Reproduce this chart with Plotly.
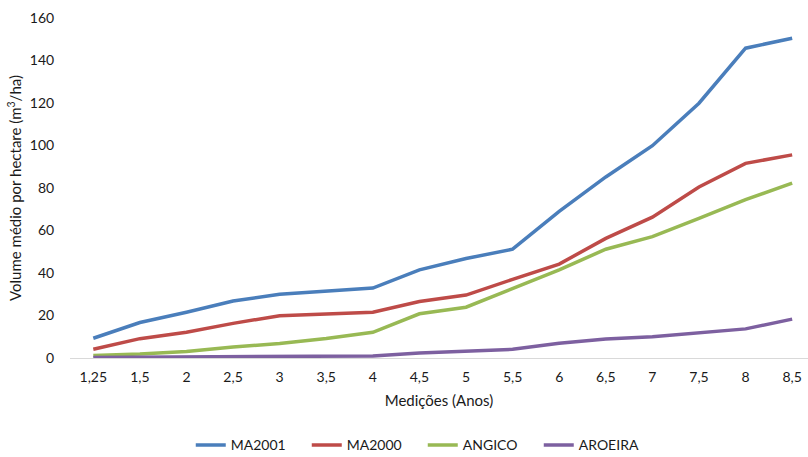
import plotly.graph_objects as go

categories = ["1,25", "1,5", "2", "2,5", "3", "3,5", "4", "4,5", "5", "5,5", "6", "6,5", "7", "7,5", "8", "8,5"]
ma2001 = [9.3, 16.7, 21.5, 26.8, 30.0, 31.3, 32.9, 41.5, 46.8, 51.2, 69.0, 85.2, 99.9, 119.9, 145.8, 150.5]
ma2000 = [4.1, 9.1, 12.1, 16.3, 19.9, 20.7, 21.5, 26.6, 29.6, 37.0, 44.2, 56.3, 66.3, 80.5, 91.6, 95.6]
angico = [1.2, 1.9, 3.1, 5.2, 6.8, 9.2, 12.1, 20.8, 23.9, 32.9, 41.5, 51.2, 57.1, 65.7, 74.5, 82.3]
aroeira = [0.2, 0.3, 0.4, 0.5, 0.6, 0.9, 1.0, 2.3, 3.0, 4.1, 6.9, 8.9, 10.0, 11.9, 13.7, 18.3]

series = [("MA2001", ma2001, "#4A7EBB"), ("MA2000", ma2000, "#BE4B48"),
          ("ANGICO", angico, "#98B954"), ("AROEIRA", aroeira, "#7D60A0")]

fig = go.Figure()
for name, vals, color in series:
    fig.add_trace(go.Scatter(x=categories, y=vals, name=name, mode="lines",
                             line=dict(color=color, width=3.5)))

font = "Lato, 'Liberation Sans', sans-serif"
fig.update_layout(
    width=808, height=457,
    margin=dict(l=70, r=0, t=18, b=99, autoexpand=False),
    paper_bgcolor="white", plot_bgcolor="white",
    font=dict(family=font, size=14, color="#1a1a1a"),
    showlegend=True,
    legend=dict(orientation="h", x=0.478, xanchor="center", yref="paper",
                y=-0.257, yanchor="middle",
                font=dict(size=14), entrywidth=71, itemwidth=30, tracegroupgap=0),
    xaxis=dict(type="category", range=[-0.5, 15.34], showgrid=False, automargin=False,
               showline=True, linecolor="#D9D9D9", linewidth=1,
               ticks="outside", ticklen=6, tickcolor="white",
               title=dict(text="Medições (Anos)", standoff=11, font=dict(size=15))),
    yaxis=dict(range=[0, 160], dtick=20, showgrid=False, zeroline=False, automargin=False,
               showline=False, ticks="outside", ticklen=12, tickcolor="white",
               title=dict(text="Volume médio por hectare (m<sup>3</sup>/ha)", standoff=4,
                          font=dict(size=15))),
)
fig.write_html("out.html")
